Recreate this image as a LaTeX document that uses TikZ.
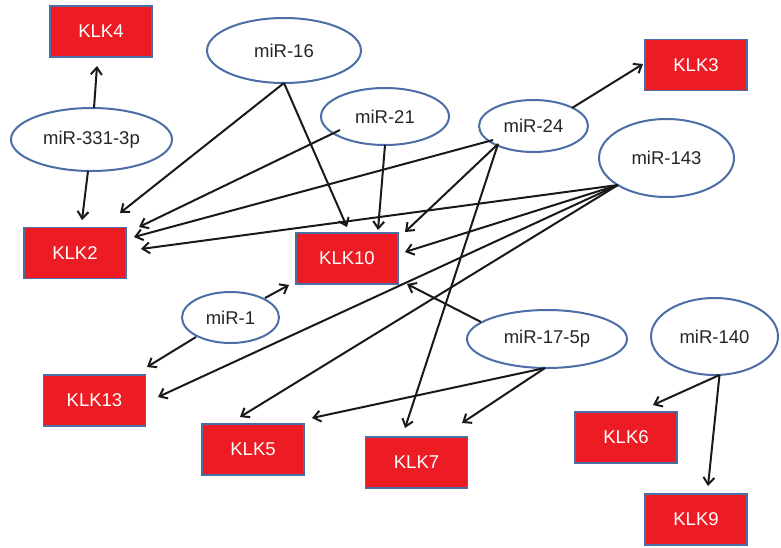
\documentclass[tikz,border=0pt]{standalone}
\usepackage{fontspec}
\setmainfont{Liberation Sans}
\usetikzlibrary{arrows.meta,shapes.geometric}
\definecolor{klkred}{RGB}{237,28,36}
\definecolor{edgeblue}{RGB}{74,110,165}
\newcommand{\conn}[4]{\draw[arr] ([shift={(#2)}]#1.center) -- ([shift={(#4)}]#3.center);}
\begin{document}
\begin{tikzpicture}[x=1pt,y=-1pt,
  klk/.style={draw=edgeblue,line width=1.6pt,fill=klkred,text=white,minimum width=102pt,minimum height=51pt,inner sep=0pt,font=\fontsize{18.5}{20}\selectfont},
  mir/.style={ellipse,draw=edgeblue,line width=2pt,fill=white,text=black!85,inner sep=0pt,font=\fontsize{18.5}{20}\selectfont},
  arr/.style={draw=black!90,line width=2pt,-{Straight Barb[length=7pt,width=11pt]}}]
\useasboundingbox (0,0) rectangle (781,547);
% KLK boxes
\node[klk] (k4) at (101,31.5) {KLK4};
\node[klk] (k2) at (75,253) {KLK2};
\node[klk] (k10) at (347,258.5) {KLK10};
\node[klk] (k3) at (696,65) {KLK3};
\node[klk] (k13) at (94.5,400.5) {KLK13};
\node[klk] (k5) at (253,449.5) {KLK5};
\node[klk] (k7) at (416.5,462.5) {KLK7};
\node[klk] (k6) at (626,437.5) {KLK6};
\node[klk] (k9) at (696,519.5) {KLK9};
% miRNA ellipses
\node[mir,minimum width=161pt,minimum height=63pt] (m331) at (91.5,139.5) {miR-331-3p};
\node[mir,minimum width=154pt,minimum height=65pt] (m16) at (284,50.5) {miR-16};
\node[mir,minimum width=128pt,minimum height=57pt] (m21) at (385,116.5) {miR-21};
\node[mir,minimum width=109pt,minimum height=52pt] (m24) at (533.5,126) {miR-24};
\node[mir,minimum width=135pt,minimum height=78pt] (m143) at (666.5,158) {miR-143};
\node[mir,minimum width=97pt,minimum height=51pt] (m1) at (230.5,317.5) {miR-1};
\node[mir,minimum width=160pt,minimum height=58pt] (m17) at (547,339) {miR-17-5p};
\node[mir,minimum width=127pt,minimum height=77pt] (m140) at (714.5,336.5) {miR-140};
% connectors
\conn{m331}{2.5,-31.5}{k4}{-4,34.5}
\conn{m331}{-3.5,31.5}{k2}{7,-33}
\conn{m16}{0,32.5}{k2}{45,-40}
\conn{m16}{0,32.5}{k10}{0,-31.5}
\conn{m21}{-45,13.5}{k2}{64,-26}
\conn{m21}{0,28.5}{k10}{31,-28.5}
\conn{m24}{38.5,-18}{k3}{-53,-1}
\conn{m24}{-40.5,14}{k2}{59,-16}
\conn{m24}{-35.5,18}{k10}{58,-26.5}
\conn{m24}{-35.5,18}{k7}{-11.5,-34.5}
\conn{m143}{-48.5,27}{k2}{66,-4}
\conn{m143}{-48.5,27}{k10}{58,-6.5}
\conn{m143}{-48.5,27}{k13}{63.5,-3.5}
\conn{m143}{-48.5,27}{k5}{-13,-32.5}
\conn{m1}{34.5,-19.5}{k10}{-58,26.5}
\conn{m1}{-34.5,19.5}{k13}{52.5,-33.5}
\conn{m17}{-66,-17}{k10}{60,25.5}
\conn{m17}{-2,29}{k5}{59,-31.5}
\conn{m17}{-2,29}{k7}{45.5,-39.5}
\conn{m140}{5,38.5}{k6}{27,-32.5}
\conn{m140}{5,38.5}{k9}{12,-33.5}
\end{tikzpicture}
\end{document}
